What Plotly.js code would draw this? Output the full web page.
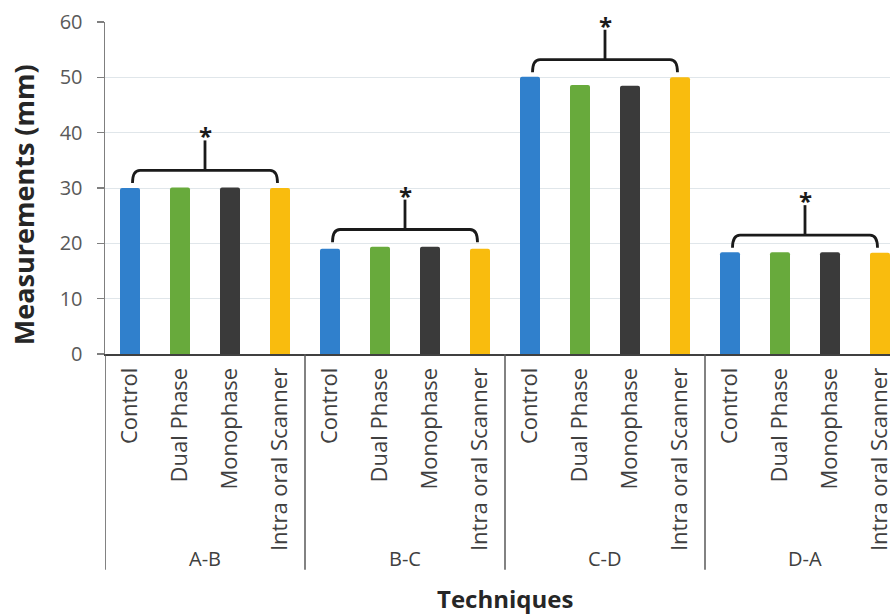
<!DOCTYPE html>
<html>
<head>
<meta charset="utf-8">
<script src="https://cdn.plot.ly/plotly-3.0.1.min.js"></script>
<style>
  html, body { margin: 0; padding: 0; overflow: hidden; background: #ffffff; }
  #chart { width: 920px; height: 615px; }
</style>
</head>
<body>
<div id="chart"></div>
<script>
// ---- data ----
const groups = ['A-B', 'B-C', 'C-D', 'D-A'];
const techniques = ['Control', 'Dual Phase', 'Monophase', 'Intra oral Scanner'];
const control   = [30.0, 19.0, 50.1, 18.4];
const dualPhase = [30.1, 19.4, 48.6, 18.4];
const monophase = [30.1, 19.4, 48.5, 18.4];
const intraoral = [30.0, 19.0, 50.0, 18.3];
const seriesValues = [control, dualPhase, monophase, intraoral];
const seriesColors = ['#3080cc', '#68aa3c', '#3a3a3a', '#f9bc0e'];

const FONT = 'Open Sans, Liberation Sans, sans-serif';
const nT = techniques.length;

// category slot index for (group, technique)
const slot = (gi, t) => gi * nT + t;

const traces = techniques.map((tech, t) => ({
  type: 'bar',
  name: tech,
  x: groups.map((g, gi) => slot(gi, t)),
  y: seriesValues[t],
  customdata: groups,
  marker: { color: seriesColors[t], line: { width: 0 }, cornerradius: 2 },
  hovertemplate: '%{customdata} ' + tech + ': %{y}<extra></extra>'
}));

const tickvals = [];
const ticktext = [];
groups.forEach((g, gi) => techniques.forEach((tech, t) => {
  tickvals.push(slot(gi, t));
  ticktext.push(tech);
}));

const shapes = [];
const annotations = [];

// brackets and asterisks computed from the data
groups.forEach((g, gi) => {
  const vals = seriesValues.map(s => s[gi]);
  const top = Math.max(...vals);
  const x0 = slot(gi, 0) + 0.05;
  const x3 = slot(gi, nT - 1) - 0.05;
  const xm = (x0 + x3) / 2;
  const yE = top + 0.8, yH = top + 3.1, yS = top + 8.5, yA = top + 9.3;
  const c = 0.15;
  shapes.push({
    type: 'path', xref: 'x', yref: 'y',
    path: `M ${x0},${yE} Q ${x0},${yH} ${x0 + c},${yH} L ${x3 - c},${yH} Q ${x3},${yH} ${x3},${yE}`,
    line: { color: '#1a1a1a', width: 2.8 }
  });
  shapes.push({
    type: 'line', xref: 'x', yref: 'y',
    x0: xm, x1: xm, y0: yH, y1: yS,
    line: { color: '#1a1a1a', width: 2.8 }
  });
  annotations.push({
    x: xm, y: yA, xref: 'x', yref: 'y', text: '<b>*</b>', showarrow: false,
    font: { family: FONT, size: 24, color: '#1a1a1a' }, yanchor: 'middle'
  });
  // group label below the technique labels
  annotations.push({
    x: (slot(gi, 0) + slot(gi, nT - 1)) / 2, xref: 'x',
    y: -0.615, yref: 'paper', yanchor: 'middle',
    text: g, showarrow: false,
    font: { family: FONT, size: 20, color: '#404040' }
  });
});

// group dividers (including both ends)
for (let gi = 0; gi <= groups.length; gi++) {
  shapes.push({
    type: 'line', xref: 'x', yref: 'paper',
    x0: slot(gi, 0) - 0.5, x1: slot(gi, 0) - 0.5, y0: 0, y1: -0.65,
    line: { color: '#595959', width: 1.5 }
  });
}

// axis titles
annotations.push({
  text: '<b>Techniques</b>', xref: 'paper', yref: 'paper',
  x: 0.5, y: -0.736, showarrow: false, xanchor: 'center', yanchor: 'middle',
  font: { family: FONT, size: 24, color: '#262626' }
});
annotations.push({
  text: '<b>Measurements (mm)</b>', xref: 'paper', yref: 'paper',
  x: -0.101, y: 0.449, showarrow: false, textangle: -90,
  xanchor: 'center', yanchor: 'middle',
  font: { family: FONT, size: 27, color: '#262626' }
});

const layout = {
  width: 920, height: 615,
  margin: { l: 105, r: 15, t: 22, b: 261 },
  paper_bgcolor: '#ffffff', plot_bgcolor: '#ffffff',
  showlegend: false,
  barmode: 'relative',
  bargap: 0.6,
  font: { family: FONT, color: '#404040' },
  xaxis: {
    type: 'linear',
    range: [-0.5, groups.length * nT - 0.5],
    tickmode: 'array', tickvals: tickvals, ticktext: ticktext,
    tickangle: -90, ticks: '', ticklabelstandoff: 3,
    showline: true, linecolor: '#404040', linewidth: 2,
    tickfont: { family: FONT, size: 22, color: '#404040' },
    showgrid: false, zeroline: false
  },
  yaxis: {
    range: [0, 60], dtick: 10, tick0: 0,
    showline: true, linecolor: '#7f7f7f', linewidth: 1.5,
    ticks: 'outside', ticklen: 7, tickcolor: '#7f7f7f', tickwidth: 1.5,
    ticklabelstandoff: 10,
    showgrid: true, gridcolor: '#e0e6ea', gridwidth: 1,
    zeroline: false,
    tickfont: { family: FONT, size: 20, color: '#595959' }
  },
  shapes: shapes,
  annotations: annotations
};

Plotly.newPlot('chart', traces, layout, { displayModeBar: false, staticPlot: true });
</script>
</body>
</html>
